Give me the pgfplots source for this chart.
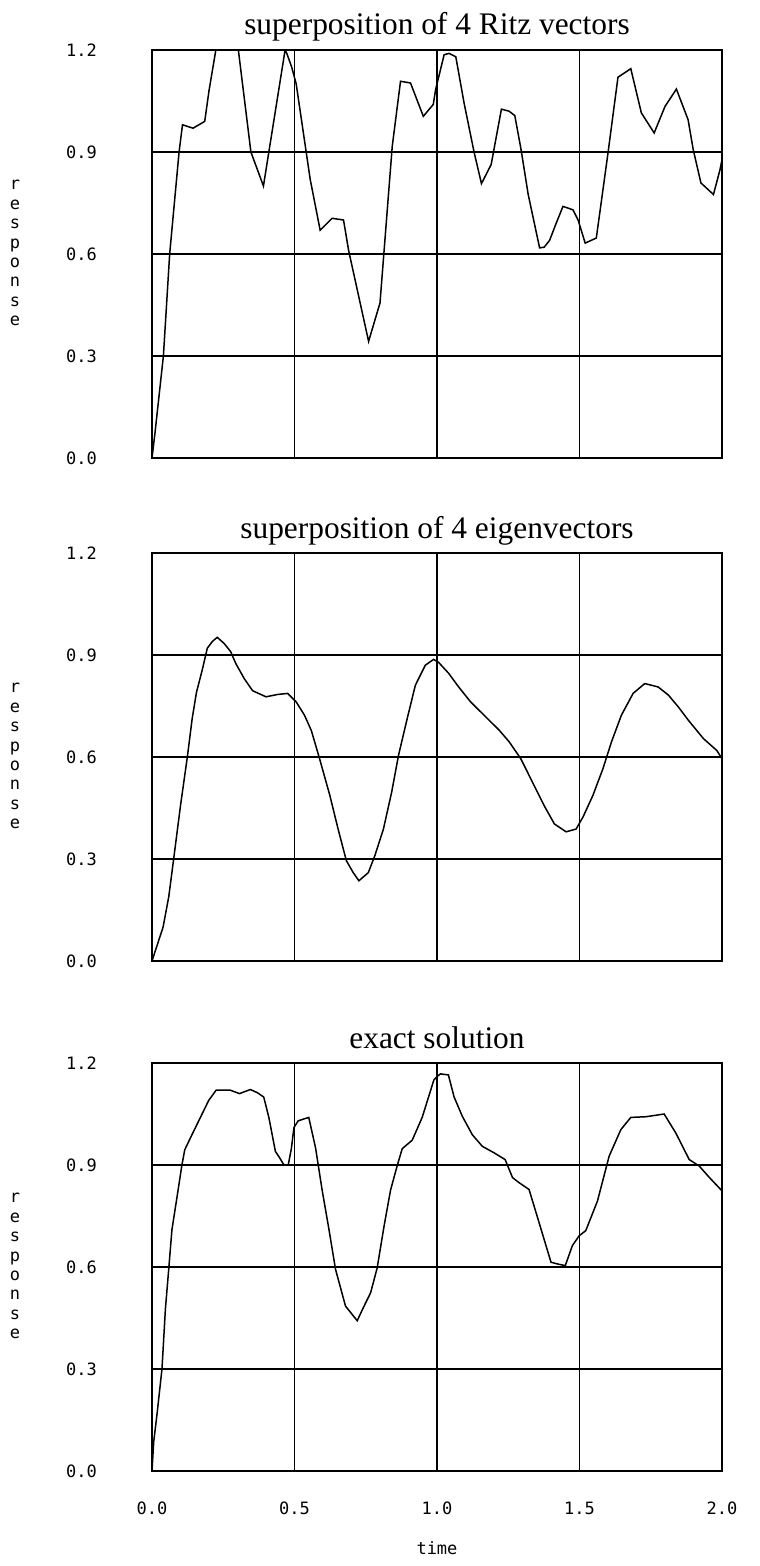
\documentclass[border=0pt]{standalone}
\usepackage{fontspec}
\setmainfont{Liberation Serif}
\newfontfamily\plotfont{DejaVu Sans Mono}
\usepackage{pgfplots}
\pgfplotsset{compat=1.18}

\pgfplotstableread{
t v
0 0.0
0.01 0.07
0.04 0.30
0.062 0.60
0.095 0.90
0.107 0.98
0.144 0.97
0.185 0.99
0.20 1.08
0.224 1.20
0.303 1.20
0.347 0.90
0.391 0.80
0.467 1.20
0.473 1.19
0.49 1.15
0.506 1.10
0.555 0.82
0.59 0.67
0.632 0.705
0.672 0.70
0.69 0.61
0.76 0.343
0.80 0.456
0.843 0.917
0.872 1.108
0.907 1.103
0.952 1.005
0.987 1.04
0.995 1.083
1.025 1.186
1.042 1.19
1.066 1.18
1.095 1.044
1.13 0.90
1.156 0.807
1.19 0.863
1.226 1.026
1.253 1.02
1.273 1.007
1.295 0.907
1.32 0.775
1.36 0.618
1.376 0.62
1.395 0.64
1.418 0.69
1.442 0.74
1.477 0.73
1.495 0.70
1.52 0.632
1.559 0.647
1.6 0.897
1.635 1.12
1.68 1.145
1.717 1.015
1.762 0.956
1.8 1.034
1.84 1.085
1.881 0.995
1.899 0.907
1.926 0.809
1.97 0.775
1.993 0.848
2.0 0.877
}\ritz

\pgfplotstableread{
t v
0 0
0.039 0.10
0.059 0.19
0.076 0.30
0.1 0.457
0.124 0.60
0.141 0.713
0.156 0.79
0.176 0.855
0.194 0.92
0.212 0.94
0.229 0.952
0.253 0.934
0.276 0.91
0.294 0.875
0.324 0.83
0.353 0.795
0.4 0.777
0.441 0.784
0.476 0.787
0.506 0.762
0.535 0.723
0.559 0.678
0.588 0.595
0.624 0.487
0.653 0.388
0.682 0.295
0.706 0.26
0.726 0.236
0.759 0.26
0.782 0.31
0.812 0.388
0.841 0.497
0.865 0.605
0.894 0.708
0.924 0.811
0.959 0.87
0.988 0.887
1.006 0.878
1.041 0.846
1.076 0.806
1.118 0.762
1.159 0.728
1.218 0.679
1.253 0.645
1.294 0.595
1.335 0.526
1.376 0.457
1.412 0.403
1.453 0.38
1.488 0.388
1.512 0.423
1.547 0.487
1.582 0.565
1.612 0.644
1.647 0.723
1.688 0.787
1.729 0.816
1.776 0.806
1.812 0.782
1.847 0.747
1.882 0.708
1.935 0.654
1.982 0.619
2.0 0.595
}\eigen

\pgfplotstableread{
t v
0 0
0.006 0.086
0.018 0.17
0.035 0.30
0.047 0.476
0.059 0.597
0.07 0.71
0.088 0.807
0.105 0.90
0.115 0.945
0.135 0.98
0.164 1.03
0.199 1.09
0.225 1.12
0.275 1.12
0.307 1.11
0.345 1.122
0.369 1.113
0.392 1.10
0.41 1.04
0.433 0.94
0.445 0.925
0.463 0.90
0.478 0.90
0.489 0.948
0.498 1.01
0.513 1.03
0.55 1.04
0.574 0.95
0.597 0.826
0.621 0.71
0.644 0.593
0.679 0.485
0.72 0.442
0.744 0.485
0.767 0.524
0.79 0.597
0.814 0.719
0.837 0.826
0.861 0.90
0.878 0.948
0.913 0.973
0.948 1.04
0.989 1.15
1.0 1.16
1.012 1.168
1.04 1.165
1.06 1.10
1.089 1.043
1.124 0.989
1.159 0.955
1.2 0.936
1.239 0.916
1.265 0.863
1.288 0.848
1.323 0.828
1.358 0.731
1.4 0.614
1.423 0.609
1.45 0.604
1.475 0.663
1.499 0.692
1.522 0.707
1.563 0.794
1.604 0.926
1.645 1.004
1.68 1.04
1.733 1.042
1.797 1.05
1.838 0.994
1.885 0.916
1.92 0.897
1.956 0.863
2.0 0.824
}\exact

\newcommand{\resp}{{\plotfont\fontsize{8.5}{9.7}\selectfont
\begin{tabular}{@{}c@{}}r\\e\\s\\p\\o\\n\\s\\e\end{tabular}}}

\pgfplotsset{
  panel/.style={
    width=285pt, height=204pt, scale only axis,
    xmin=0, xmax=2, ymin=0, ymax=1.2,
    xtick={0,0.5,1,1.5,2}, ytick={0,0.3,0.6,0.9,1.2},
    grid=major,
    major grid style={black, line width=0.65pt},
    axis line style={black, line width=0.75pt},
    major tick length=0pt,
    /pgf/number format/assume math mode=true,
    yticklabel style={font=\plotfont\fontsize{8.5}{10}\selectfont, xshift=-24pt,
      /pgf/number format/fixed, /pgf/number format/fixed zerofill, /pgf/number format/precision=1},
    xticklabel style={font=\plotfont\fontsize{8.5}{10}\selectfont, yshift=-12pt,
      /pgf/number format/fixed, /pgf/number format/fixed zerofill, /pgf/number format/precision=1},
    title style={at={(axis description cs:0.5,1)}, anchor=base, yshift=1.5pt,
      font=\fontsize{15.7}{18}\selectfont},
    every axis y label/.style={at={(axis description cs:0,0.5)}, xshift=-68.5pt, anchor=center},
    ylabel={\resp},
    every axis x label/.style={at={(axis description cs:0.5,0)}, yshift=-38.5pt, anchor=center,
      font=\plotfont\fontsize{8.5}{10}\selectfont},
    clip=true,
  },
  curve/.style={black, line width=0.75pt, no markers},
}

\begin{document}
\begin{tikzpicture}
\path[use as bounding box] (-76pt,0pt) rectangle (303.5pt,-783pt);
\begin{axis}[panel, at={(0pt,-25pt)}, anchor=north west,
  title={superposition of 4 Ritz vectors}, xticklabels={}]
\addplot[curve] table[x=t,y=v] {\ritz};
\end{axis}
\begin{axis}[panel, at={(0pt,-276.5pt)}, anchor=north west,
  title={superposition of 4 eigenvectors}, xticklabels={}]
\addplot[curve] table[x=t,y=v] {\eigen};
\end{axis}
\begin{axis}[panel, at={(0pt,-531.5pt)}, anchor=north west,
  title={exact solution}, xlabel={time}]
\addplot[curve] table[x=t,y=v] {\exact};
\end{axis}
\end{tikzpicture}
\end{document}
